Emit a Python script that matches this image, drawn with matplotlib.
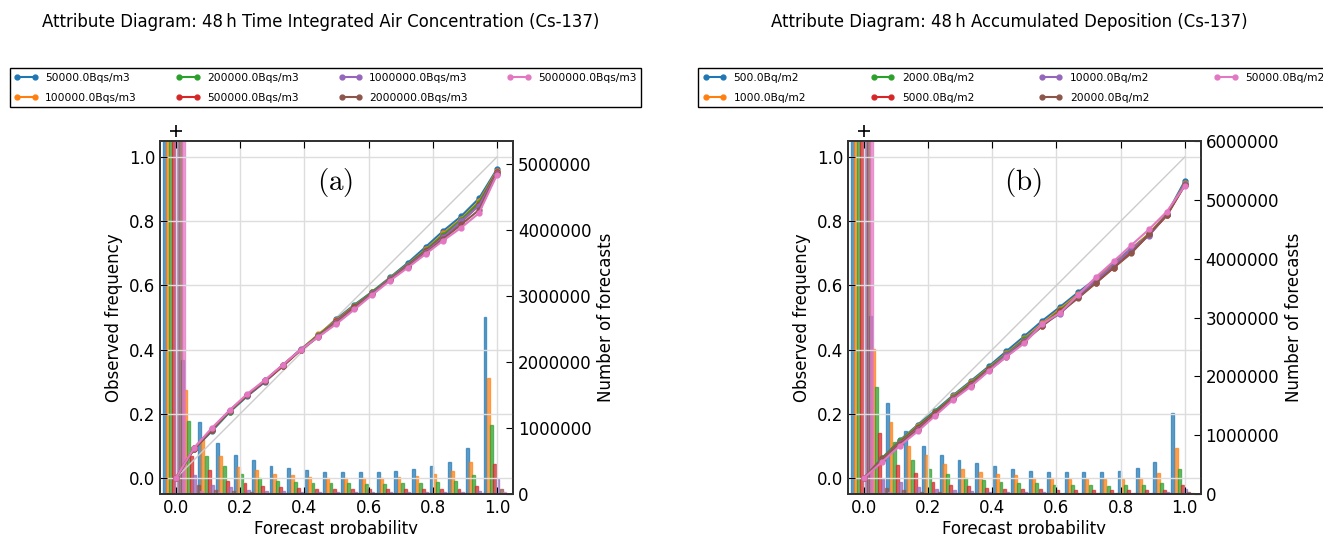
import numpy as np
import matplotlib
matplotlib.use("Agg")
import matplotlib.pyplot as plt

plt.rcParams['font.family'] = ['DejaVu Sans']
plt.rcParams['mathtext.fontset'] = 'cm'

# forecast probability bins (18 member ensemble)
probs = [0.0, 0.056, 0.111, 0.167, 0.222, 0.278, 0.333, 0.389, 0.444, 0.5,
         0.556, 0.611, 0.667, 0.722, 0.778, 0.833, 0.889, 0.944, 1.0]

colors = ['#1f77b4', '#ff7f0e', '#2ca02c', '#d62728', '#9467bd', '#8c564b', '#e377c2']

# ---- air concentration ----
conc_labels = ['50000.0Bqs/m3', '100000.0Bqs/m3', '200000.0Bqs/m3', '500000.0Bqs/m3',
               '1000000.0Bqs/m3', '2000000.0Bqs/m3', '5000000.0Bqs/m3']

conc_obs = [
    [0.0, 0.090, 0.145, 0.205, 0.255, 0.300, 0.350, 0.400, 0.445, 0.495, 0.540, 0.580, 0.625, 0.670, 0.720, 0.770, 0.816, 0.871, 0.962],
    [0.0, 0.092, 0.150, 0.208, 0.258, 0.303, 0.352, 0.400, 0.448, 0.492, 0.537, 0.578, 0.623, 0.665, 0.712, 0.762, 0.808, 0.862, 0.958],
    [0.0, 0.091, 0.148, 0.207, 0.257, 0.304, 0.351, 0.400, 0.446, 0.490, 0.535, 0.580, 0.622, 0.664, 0.710, 0.758, 0.805, 0.858, 0.955],
    [0.0, 0.090, 0.149, 0.209, 0.258, 0.302, 0.348, 0.399, 0.442, 0.488, 0.533, 0.576, 0.620, 0.662, 0.706, 0.752, 0.798, 0.850, 0.953],
    [0.0, 0.093, 0.152, 0.210, 0.259, 0.304, 0.352, 0.401, 0.441, 0.487, 0.531, 0.575, 0.620, 0.660, 0.704, 0.750, 0.800, 0.848, 0.950],
    [0.0, 0.092, 0.151, 0.209, 0.257, 0.303, 0.350, 0.399, 0.440, 0.484, 0.530, 0.572, 0.618, 0.658, 0.700, 0.745, 0.790, 0.835, 0.948],
    [0.0, 0.093, 0.155, 0.211, 0.262, 0.306, 0.353, 0.400, 0.440, 0.480, 0.525, 0.570, 0.615, 0.655, 0.698, 0.740, 0.780, 0.825, 0.944],
]

conc_counts = [
    [45e6, 2.03e6, 1.09e6, 0.77e6, 0.59e6, 0.52e6, 0.43e6, 0.39e6, 0.36e6, 0.33e6, 0.33e6, 0.33e6, 0.33e6, 0.345e6, 0.375e6, 0.42e6, 0.49e6, 0.70e6, 2.68e6],
    [46e6, 1.57e6, 0.83e6, 0.58e6, 0.41e6, 0.37e6, 0.30e6, 0.28e6, 0.26e6, 0.24e6, 0.24e6, 0.24e6, 0.24e6, 0.25e6, 0.27e6, 0.30e6, 0.35e6, 0.48e6, 1.75e6],
    [47e6, 1.10e6, 0.58e6, 0.42e6, 0.30e6, 0.24e6, 0.20e6, 0.18e6, 0.17e6, 0.16e6, 0.16e6, 0.15e6, 0.15e6, 0.16e6, 0.17e6, 0.18e6, 0.20e6, 0.29e6, 1.04e6],
    [48e6, 0.57e6, 0.36e6, 0.20e6, 0.16e6, 0.12e6, 0.10e6, 0.09e6, 0.08e6, 0.075e6, 0.07e6, 0.07e6, 0.07e6, 0.07e6, 0.07e6, 0.07e6, 0.08e6, 0.12e6, 0.46e6],
    [49e6, 0.29e6, 0.14e6, 0.10e6, 0.06e6, 0.05e6, 0.04e6, 0.035e6, 0.03e6, 0.03e6, 0.025e6, 0.025e6, 0.025e6, 0.025e6, 0.025e6, 0.025e6, 0.03e6, 0.05e6, 0.22e6],
    [50e6, 0.13e6, 0.06e6, 0.04e6, 0.03e6, 0.02e6, 0.02e6, 0.015e6, 0.015e6, 0.012e6, 0.012e6, 0.012e6, 0.012e6, 0.012e6, 0.012e6, 0.012e6, 0.015e6, 0.02e6, 0.08e6],
    [51e6, 0.05e6, 0.025e6, 0.015e6, 0.01e6, 0.008e6, 0.006e6, 0.005e6, 0.005e6, 0.005e6, 0.005e6, 0.005e6, 0.005e6, 0.005e6, 0.005e6, 0.005e6, 0.006e6, 0.008e6, 0.03e6],
]

# ---- deposition ----
dep_labels = ['500.0Bq/m2', '1000.0Bq/m2', '2000.0Bq/m2', '5000.0Bq/m2',
              '10000.0Bq/m2', '20000.0Bq/m2', '50000.0Bq/m2']

dep_obs = [
    [0.0, 0.062, 0.117, 0.165, 0.210, 0.258, 0.302, 0.348, 0.395, 0.442, 0.490, 0.533, 0.578, 0.620, 0.668, 0.715, 0.760, 0.822, 0.925],
    [0.0, 0.060, 0.115, 0.162, 0.206, 0.255, 0.298, 0.344, 0.388, 0.435, 0.482, 0.527, 0.572, 0.617, 0.665, 0.713, 0.762, 0.822, 0.918],
    [0.0, 0.061, 0.114, 0.160, 0.207, 0.253, 0.296, 0.342, 0.386, 0.432, 0.478, 0.523, 0.568, 0.612, 0.662, 0.710, 0.760, 0.820, 0.915],
    [0.0, 0.058, 0.110, 0.156, 0.203, 0.250, 0.292, 0.339, 0.382, 0.428, 0.474, 0.519, 0.563, 0.607, 0.655, 0.703, 0.758, 0.818, 0.912],
    [0.0, 0.056, 0.108, 0.153, 0.200, 0.248, 0.290, 0.337, 0.383, 0.428, 0.478, 0.512, 0.565, 0.615, 0.662, 0.713, 0.755, 0.822, 0.915],
    [0.0, 0.055, 0.106, 0.150, 0.198, 0.246, 0.288, 0.335, 0.378, 0.425, 0.474, 0.516, 0.560, 0.607, 0.655, 0.700, 0.760, 0.818, 0.912],
    [0.0, 0.050, 0.100, 0.145, 0.194, 0.244, 0.285, 0.333, 0.378, 0.420, 0.480, 0.515, 0.570, 0.625, 0.675, 0.725, 0.775, 0.830, 0.910],
]

dep_counts = [
    [55e6, 3.02e6, 1.55e6, 1.07e6, 0.82e6, 0.66e6, 0.57e6, 0.52e6, 0.48e6, 0.42e6, 0.39e6, 0.37e6, 0.37e6, 0.37e6, 0.37e6, 0.39e6, 0.45e6, 0.55e6, 1.37e6],
    [56e6, 2.46e6, 1.23e6, 0.82e6, 0.66e6, 0.51e6, 0.43e6, 0.38e6, 0.34e6, 0.33e6, 0.28e6, 0.27e6, 0.26e6, 0.26e6, 0.25e6, 0.26e6, 0.28e6, 0.35e6, 0.79e6],
    [57e6, 1.82e6, 0.89e6, 0.58e6, 0.43e6, 0.34e6, 0.28e6, 0.23e6, 0.20e6, 0.18e6, 0.19e6, 0.16e6, 0.16e6, 0.16e6, 0.14e6, 0.16e6, 0.16e6, 0.19e6, 0.42e6],
    [58e6, 1.03e6, 0.49e6, 0.35e6, 0.21e6, 0.15e6, 0.13e6, 0.10e6, 0.09e6, 0.08e6, 0.09e6, 0.07e6, 0.07e6, 0.07e6, 0.06e6, 0.06e6, 0.06e6, 0.07e6, 0.15e6],
    [59e6, 0.26e6, 0.20e6, 0.12e6, 0.08e6, 0.06e6, 0.05e6, 0.04e6, 0.035e6, 0.03e6, 0.03e6, 0.025e6, 0.025e6, 0.025e6, 0.025e6, 0.025e6, 0.025e6, 0.03e6, 0.08e6],
    [60e6, 0.10e6, 0.06e6, 0.04e6, 0.03e6, 0.02e6, 0.02e6, 0.015e6, 0.015e6, 0.012e6, 0.012e6, 0.012e6, 0.012e6, 0.012e6, 0.012e6, 0.012e6, 0.012e6, 0.015e6, 0.04e6],
    [61e6, 0.04e6, 0.02e6, 0.012e6, 0.01e6, 0.008e6, 0.006e6, 0.005e6, 0.005e6, 0.005e6, 0.005e6, 0.005e6, 0.005e6, 0.005e6, 0.005e6, 0.005e6, 0.005e6, 0.006e6, 0.015e6],
]


def attribute_panel(ax, obs, counts, labels, title, tag, count_max, count_ticks):
    ax2 = ax.twinx()
    x = np.array(probs)
    for j, c in enumerate(colors):
        ax2.bar(x - 0.037 + j * 0.01, counts[j], width=0.0092, color=c, alpha=0.7,
                edgecolor=c, linewidth=1.0)
    ax2.set_ylim(0, count_max)
    ax2.set_yticks(count_ticks)
    ax2.set_yticklabels(['%d' % t for t in count_ticks])
    ax2.set_ylabel('Number of forecasts', fontsize=12)
    ax2.tick_params(direction='in', labelsize=12, length=5)

    # reliability curves on top of the histogram
    ax.set_zorder(ax2.get_zorder() + 1)
    ax.patch.set_visible(False)
    ax.plot([0, 1], [0, 1], color='#cccccc', lw=1)
    for j, c in enumerate(colors):
        ax.plot(probs, obs[j], '-', marker='o', color=c, ms=3.5, lw=1.5,
                markeredgecolor=c, label=labels[j])
    ax.plot([0], [1.08], 'k+', ms=9, mew=1.2, clip_on=False)

    ax.set_xlim(-0.05, 1.05)
    ax.set_ylim(-0.05, 1.05)
    ax.set_xticks([0, 0.2, 0.4, 0.6, 0.8, 1.0])
    ax.set_yticks([0, 0.2, 0.4, 0.6, 0.8, 1.0])
    ax.grid(True, color='#dddddd', lw=1)
    ax.set_axisbelow(True)
    ax.tick_params(direction='in', labelsize=12, length=5, top=True)
    ax.set_xlabel('Forecast probability', fontsize=12, labelpad=2)
    ax.set_ylabel('Observed frequency', fontsize=12)
    for a in (ax, ax2):
        for s in a.spines.values():
            s.set_color('#333333')
            s.set_linewidth(1.3)

    ax.text(0.497, 0.92, r'$\mathrm{' + tag + '}$', fontsize=21, ha='center', va='center')
    ax.text(0.456, 1.337, title, transform=ax.transAxes, fontsize=11.9,
            ha='center', va='center')
    leg = ax.legend(loc='lower left', bbox_to_anchor=(-0.425, 1.096, 1.788, 0.113),
                    mode='expand', ncol=4, fontsize=7.7, numpoints=2, borderaxespad=0,
                    fancybox=False, framealpha=1, edgecolor='black',
                    labelspacing=0.95, handlelength=2.2, handletextpad=0.7)
    leg.get_frame().set_linewidth(1.0)


fig = plt.figure(figsize=(13.23, 5.34), dpi=100)
ax_a = fig.add_axes([0.1209, 0.0749, 0.2668, 0.661])
ax_b = fig.add_axes([0.6410, 0.0749, 0.2666, 0.661])

attribute_panel(ax_a, conc_obs, conc_counts, conc_labels,
                'Attribute Diagram: 48\u2009h Time Integrated Air Concentration (Cs-137)',
                '(a)', 5.34e6, [0, 1000000, 2000000, 3000000, 4000000, 5000000])
attribute_panel(ax_b, dep_obs, dep_counts, dep_labels,
                'Attribute Diagram: 48\u2009h Accumulated Deposition (Cs-137)',
                '(b)', 6.0e6, [0, 1000000, 2000000, 3000000, 4000000, 5000000, 6000000])

fig.savefig('out.png', dpi=100)
